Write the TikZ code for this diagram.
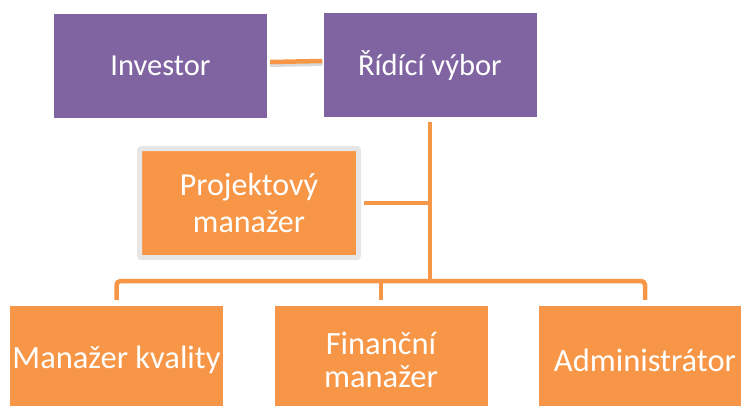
\documentclass[tikz,border=0pt]{standalone}
\usepackage{fontspec}
\setmainfont{Carlito}
\usetikzlibrary{positioning, calc}
\definecolor{boardpurple}{RGB}{128,100,162}
\definecolor{roleorange}{RGB}{247,150,70}
\definecolor{frameg}{RGB}{230,230,230}

\begin{document}
\begin{tikzpicture}[x=1pt, y=-1pt, font=\fontsize{30.5}{37}\selectfont,
  b/.style={rectangle, text=white, align=center, inner sep=0pt,
            minimum width=213pt, minimum height=104pt},
  top/.style={b, fill=boardpurple},
  role/.style={b, fill=roleorange, minimum height=108pt, font=\fontsize{32.5}{33}\selectfont},
  pmbox/.style={b, fill=roleorange, draw=frameg, line width=5pt, rounded corners=2pt,
            minimum width=219pt, minimum height=109pt, font=\fontsize{32}{37}\selectfont},
  conn/.style={draw=roleorange, line width=4.5pt}]
\useasboundingbox (0,0) rectangle (741,405);
\node[top] (inv) at (160.5,66) {Investor};
\node[top] (rid) at (430,65) {Řídící výbor};
\node[pmbox] (pm) at (249,203) {Projektový\\manažer};
\node[role] (mk) at (116.5,360) {Manažer kvality};
\node[role] (fm) at (381,360) {Finanční\\manažer};
\node[role] (adm) at (645,360) {Administrátor};
\coordinate (bus) at (430,281);
% investor -- board
\draw[black!25, line width=4pt, opacity=.6] ([xshift=3pt,yshift=1pt]inv.east) -- ([xshift=-1pt,yshift=1pt]rid.west);
\draw[conn] ([xshift=3pt,yshift=4pt]inv.east) -- ([xshift=-1pt,yshift=4pt]rid.west);
% board down to the team
\draw[conn] ([yshift=-5pt]rid.south) -- (bus);
\draw[conn] ([xshift=2.5pt]pm.east) -- (pm.east -| bus);
\draw[conn, rounded corners=4pt] ([yshift=6pt]mk.north) |- (bus) -| ([yshift=6pt]adm.north);
\draw[conn] ([yshift=6pt]fm.north) -- (fm.north |- bus);
\end{tikzpicture}
\end{document}
